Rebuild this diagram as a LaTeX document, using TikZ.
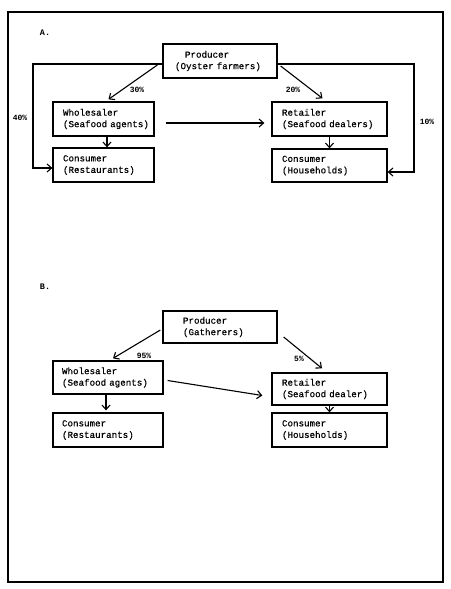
\documentclass[tikz,border=0pt]{standalone}
\usepackage{fontspec}
\newfontfamily\tw[FakeBold=0.5]{Liberation Mono}
\newfontfamily\twb{Liberation Mono Bold}
\usetikzlibrary{arrows.meta}
\tikzset{
  box/.style={draw, line width=1.3pt, rectangle, align=left, inner ysep=0pt,
    font=\tw\fontsize{9.2}{11.5}\selectfont},
  arr/.style={line width=1.1pt, -{Straight Barb[length=4.5pt,width=8pt,line width=1.1pt]}},
  pct/.style={font=\twb\fontsize{8}{8}\selectfont, inner sep=0pt},
  sec/.style={font=\twb\fontsize{8.5}{9}\selectfont, inner sep=0pt},
}
\begin{document}
\begin{tikzpicture}[x=1pt,y=-1pt]
\useasboundingbox (0,0) rectangle (450,589);
\draw[line width=1.2pt] (8,12) rectangle (443,582);
% ---------- A ----------
\node[sec] (secA) at (45,33) {A.};
\node[box, inner xsep=12pt, text width=90pt, minimum width=114pt, minimum height=34pt] (pA) at (220,61) {\hspace*{10pt}Producer\\(Oyster~farmers)};
\node[box, inner xsep=10pt, text width=81pt, minimum width=101pt, minimum height=34pt] (wA) at (103.5,119) {Wholesaler\\(Seafood~agents)};
\node[box, inner xsep=10pt, text width=81pt, minimum width=101pt, minimum height=34pt] (cA) at (103.5,165) {Consumer\\(Restaurants)};
\node[box, inner xsep=10pt, text width=95pt, minimum width=115pt, minimum height=34pt] (rA) at (329.5,119) {Retailer\\(Seafood~dealers)};
\node[box, inner xsep=10pt, text width=95pt, minimum width=115pt, minimum height=33pt] (hA) at (329.5,165.5) {Consumer\\(Households)};
\coordinate (lA1) at (33,64);
\coordinate (lA2) at (33,168);
\coordinate (rA1) at (414,64);
\coordinate (rA2) at (414,172);
\draw[arr] (pA.west |- lA1) -- (lA1) -- (lA2) -- (cA.west |- lA2);
\draw[arr] (pA.east |- rA1) -- (rA1) -- (rA2) -- (hA.east |- rA2);
\draw[arr] ([xshift=-5pt,yshift=-4pt]pA.west) -- ([xshift=5pt,yshift=2pt]wA.north);
\draw[arr] ([xshift=3pt,yshift=-5pt]pA.east) -- ([xshift=-7pt,yshift=3pt]rA.north);
\draw[arr] ([xshift=11pt,yshift=-4pt]wA.east) -- ([xshift=-7pt,yshift=-4pt]rA.west);
\draw[arr] ([xshift=3.5pt]wA.south) -- ([xshift=3.5pt]cA.north);
\draw[arr] (rA.south) -- (hA.north);
\node[pct] (p30) at (137,90) {30\%};
\node[pct] (p20) at (293,90) {20\%};
\node[pct] (p40) at (20,118) {40\%};
\node[pct] (p10) at (427,122) {10\%};
% ---------- B ----------
\node[sec] (secB) at (45,287) {B.};
\node[box, inner xsep=20pt, text width=74pt, minimum width=114pt, minimum height=32pt] (pB) at (220,327) {Producer\\(Gatherers)};
\node[box, inner xsep=9pt, text width=92pt, minimum width=110pt, minimum height=33pt] (wB) at (108,377.5) {Wholesaler\\(Seafood~agents)};
\node[box, inner xsep=9pt, text width=92pt, minimum width=110pt, minimum height=34pt] (cB) at (108,430) {Consumer\\(Restaurants)};
\node[box, inner xsep=10pt, text width=95pt, minimum width=115pt, minimum height=32pt] (rB) at (329.5,389) {Retailer\\(Seafood~dealer)};
\node[box, inner xsep=10pt, text width=95pt, minimum width=115pt, minimum height=34pt] (hB) at (329.5,430) {Consumer\\(Households)};
\draw[arr] ([xshift=-2pt,yshift=-3pt]pB.west) -- ([xshift=5pt,yshift=2pt]wB.north);
\draw[arr] ([xshift=6pt,yshift=-10pt]pB.east) -- ([xshift=-7.5pt,yshift=4pt]rB.north);
\draw[arr] ([xshift=4pt,yshift=-3pt]wB.east) -- ([xshift=-9pt,yshift=-6.5pt]rB.west);
\draw[arr] ([xshift=-2pt]wB.south) -- ([xshift=-2pt,yshift=2pt]cB.north);
\draw[arr] (rB.south) -- (hB.north);
\node[pct] (p95) at (144,356) {95\%};
\node[pct] (p5) at (299,359) {5\%};
\end{tikzpicture}
\end{document}
